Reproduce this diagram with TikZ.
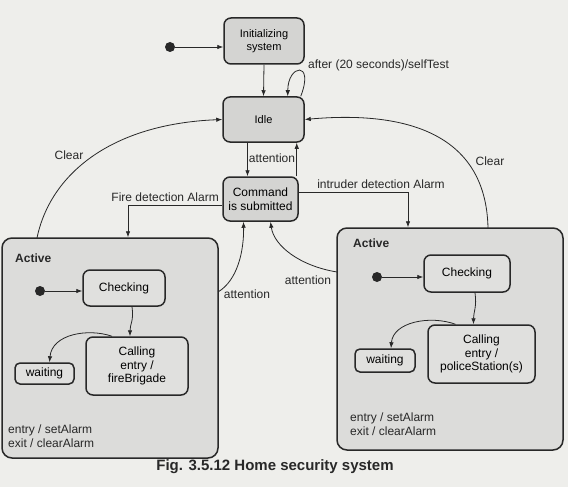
\documentclass[tikz,border=0pt]{standalone}
\usepackage{fontspec}
\setmainfont{Liberation Sans}
\usetikzlibrary{arrows.meta}
\definecolor{bgc}{RGB}{238,238,235}
\definecolor{topfill}{RGB}{212,212,210}
\definecolor{actfill}{RGB}{220,220,218}
\definecolor{infill}{RGB}{224,224,222}
\definecolor{ink}{RGB}{40,40,40}
\tikzset{
  stbox/.style={draw=ink, line width=1.5pt, rounded corners=7pt, fill=infill, align=center, inner sep=1pt},
  topbox/.style={stbox, fill=topfill},
  actbox/.style={draw=ink, line width=1.5pt, rounded corners=10pt, fill=actfill},
  arr/.style={draw=ink, line width=0.8pt, -{Latex[length=6pt,width=4.5pt]}},
  lbl/.style={inner sep=0pt, text=ink},
  initdot/.style={circle, fill=ink, minimum size=10pt, inner sep=0pt},
}
\begin{document}
\begin{tikzpicture}[x=1pt,y=-1pt,font=\fontsize{12}{13.5}\selectfont]
\fill[bgc] (0,0) rectangle (568,487);
\useasboundingbox (0,0) rectangle (568,487);
% Active containers
\node[actbox, minimum width=216pt, minimum height=220pt] (actL) at (110,348) {};
\node[actbox, minimum width=226pt, minimum height=222pt] (actR) at (450,339) {};
% top states
\node[topbox, minimum width=80pt, minimum height=46pt, font=\fontsize{11}{12.5}\selectfont] (init) at (264,41) {Initializing\\system};
\node[topbox, minimum width=81pt, minimum height=45pt, font=\fontsize{11}{12.5}\selectfont] (idle) at (263.5,119.5) {Idle};
\node[topbox, minimum width=75pt, minimum height=44pt] (cmd) at (260.5,199) {Command\\is submitted};
\node[initdot] (d0) at (170,47) {};
% left active contents
\node[lbl, font=\bfseries\fontsize{12}{13}\selectfont, anchor=west] (actLt) at (15,258) {Active};
\node[initdot] (dL) at (40,291) {};
\node[stbox, minimum width=82pt, minimum height=36pt] (chkL) at (124,288) {Checking};
\node[stbox, minimum width=102pt, minimum height=58pt] (calL) at (137,366) {Calling\\entry /\\fireBrigade};
\node[stbox, minimum width=59pt, minimum height=21pt, rounded corners=5pt] (waitL) at (44.5,373.5) {waiting};
\node[lbl, anchor=west, align=left] (entL) at (8,436) {entry / setAlarm\\exit / clearAlarm};
% right active contents
\node[lbl, font=\bfseries\fontsize{12}{13}\selectfont, anchor=west] (actRt) at (353,243) {Active};
\node[initdot] (dR) at (377,277) {};
\node[stbox, minimum width=86pt, minimum height=37pt] (chkR) at (467,273.5) {Checking};
\node[stbox, minimum width=107pt, minimum height=58pt] (calR) at (481.5,354) {Calling\\entry /\\policeStation(s)};
\node[stbox, minimum width=60pt, minimum height=23pt, rounded corners=5pt] (waitR) at (385,360.5) {waiting};
\node[lbl, anchor=west, align=left] (entR) at (350,424) {entry / setAlarm\\exit / clearAlarm};
% connectors top
\draw[arr] (d0) -- (d0 -| init.west);
\draw[arr] (init.south) -- (idle.north);
\draw[arr] ([xshift=-4pt]idle.north east) .. controls +(14,-36) and +(0,-32) .. ([xshift=-17pt]idle.north east);
\node[lbl, anchor=west] (selft) at (308,65) {after (20 seconds)/selfTest};
\draw[arr] ([xshift=-16pt]idle.south) -- ([xshift=-16pt]idle.south |- cmd.north);
\draw[arr] ([xshift=-2pt]cmd.north east) -- ([xshift=-2pt]cmd.north east |- idle.south);
\node[lbl] (att0) at (272,158) {attention};
% alarms
\draw[arr] ([yshift=-6pt]cmd.west) -| ([xshift=18pt]actL.north);
\node[lbl, anchor=south east] (firel) at (219,202) {Fire detection Alarm};
\draw[arr] ([yshift=7pt]cmd.east) -| ([xshift=-42pt]actR.north);
\node[lbl] (intl) at (381,184) {intruder detection Alarm};
% clear
\coordinate (cL) at (37,238);
\draw[arr] (cL) .. controls (50,175) and (110,124) .. (idle.west);
\node[lbl] (clearL) at (69,155) {Clear};
\coordinate (cR) at (488,228);
\draw[arr] (cR) .. controls (486,130) and (400,111) .. (idle.east);
\node[lbl] (clearR) at (490,161) {Clear};
% attention back
\coordinate (aL) at (218,292);
\draw[arr] (aL) .. controls (238,280) and (244,250) .. ([xshift=-17pt]cmd.south);
\node[lbl] (attL) at (247,294) {attention};
\coordinate (aR) at (337,272);
\draw[arr] (aR) .. controls (300,266) and (274,246) .. ([xshift=10pt]cmd.south);
\node[lbl] (attR) at (308,280) {attention};
% left inner
\draw[arr] (dL) -- (dL -| chkL.west);
\draw[arr] ([xshift=8pt]chkL.south) .. controls +(2,14) and +(0,-12) .. ([xshift=-7pt]calL.north);
\draw[arr] ([xshift=-25pt]calL.north) .. controls (88,328) and (52,334) .. ([xshift=5pt]waitL.north);
% right inner
\draw[arr] (dR) -- (dR -| chkR.west);
\draw[arr] ([xshift=8pt]chkR.south) .. controls +(2,14) and +(0,-12) .. ([xshift=-8pt]calR.north);
\draw[arr] ([xshift=-26pt]calR.north) .. controls (430,315) and (393,322) .. ([xshift=6pt]waitR.north);
% caption
\node[lbl, font=\bfseries\fontsize{15}{16}\selectfont] (cap) at (275,467) {Fig. 3.5.12 Home security system};
\end{tikzpicture}
\end{document}
